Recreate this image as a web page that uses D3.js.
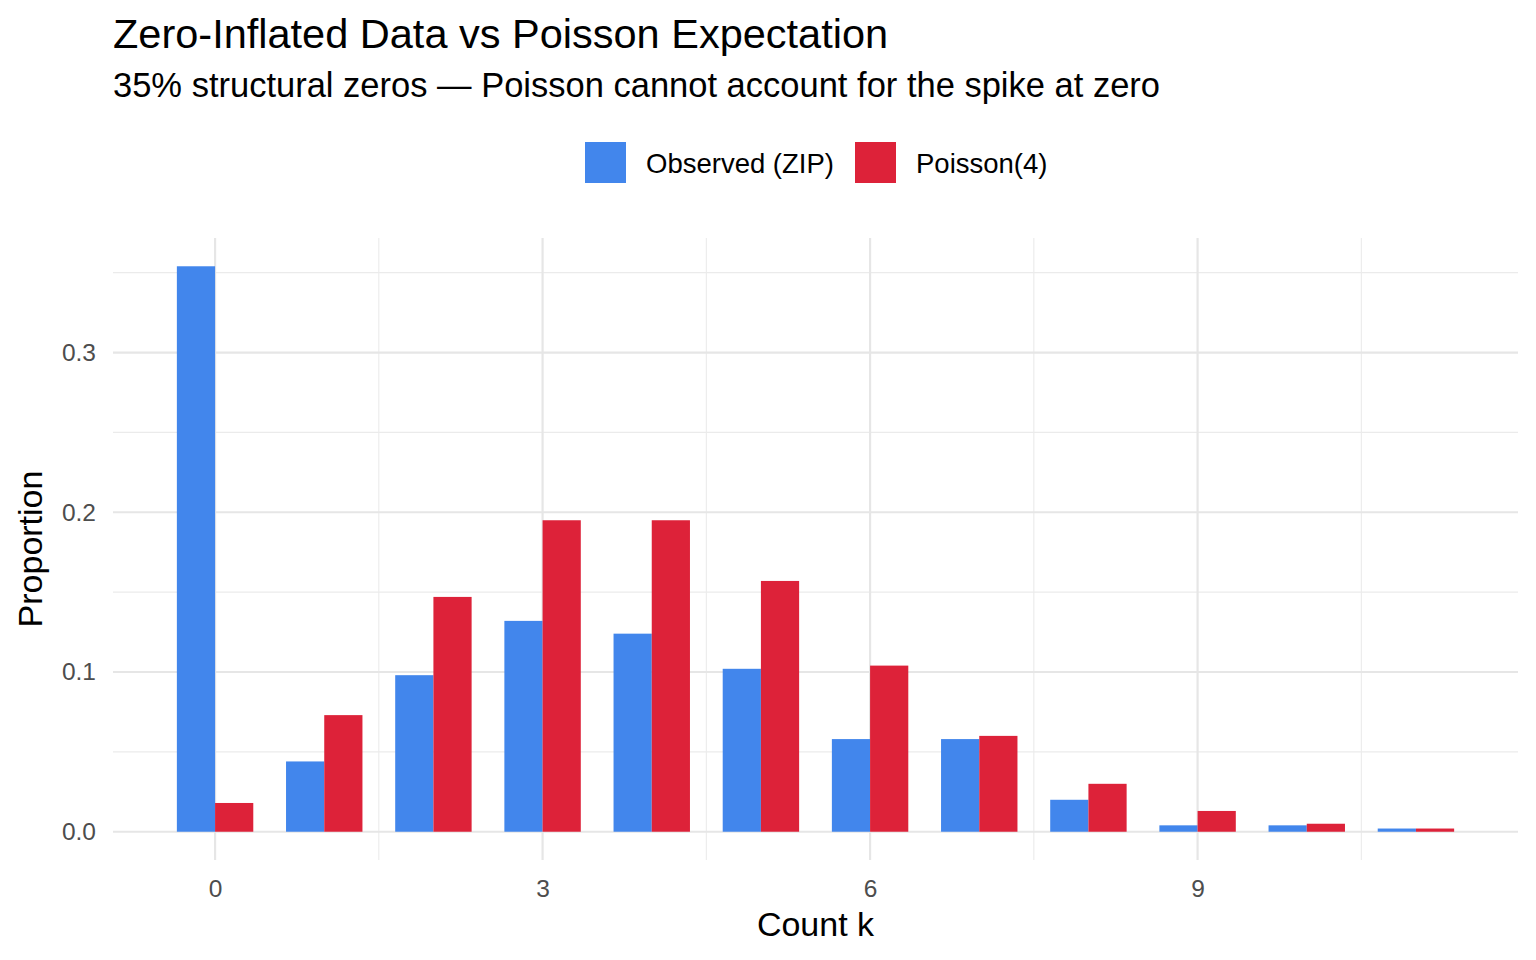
<!DOCTYPE html>
<html>
<head>
<meta charset="utf-8">
<script src="https://cdn.jsdelivr.net/npm/d3@7"></script>
<style>
  html, body { margin: 0; padding: 0; background: #fff; }
  svg { display: block; font-family: "Liberation Sans", Arial, Helvetica, sans-serif; }
</style>
</head>
<body>
<svg id="chart" width="1536" height="960"></svg>
<script>
// counts on the x axis
const counts = [0, 1, 2, 3, 4, 5, 6, 7, 8, 9, 10, 11];
// observed zero-inflated proportions
const observed = [0.354, 0.044, 0.098, 0.132, 0.124, 0.102, 0.058, 0.058, 0.020, 0.004, 0.004, 0.002];
// Poisson(4) expectation
const poisson = [0.018, 0.073, 0.147, 0.195, 0.195, 0.157, 0.104, 0.060, 0.030, 0.013, 0.005, 0.002];
const seriesNames = ['Observed (ZIP)', 'Poisson(4)'];
const seriesColors = ['#4286EC', '#DD2239'];
const xTicks = [0, 3, 6, 9];
const yTicks = [0, 0.1, 0.2, 0.3];

const svg = d3.select('#chart');

const panel = { left: 113, right: 1518, top: 238, bottom: 860 };

// ggplot style expansion: 5% each side
const dodge = 0.7;
const xMin = -dodge / 2, xMax = 11 + dodge / 2;
const xPad = (xMax - xMin) * 0.05;
const x = d3.scaleLinear()
  .domain([xMin - xPad, xMax + xPad])
  .range([panel.left, panel.right]);

const yMaxData = d3.max(observed.concat(poisson));
const yPad = yMaxData * 0.05;
const y = d3.scaleLinear()
  .domain([-yPad, yMaxData + yPad])
  .range([panel.bottom, panel.top]);

const grid = svg.append('g');

// minor grid lines
const xMinor = [1.5, 4.5, 7.5, 10.5];
const yMinor = [0.05, 0.15, 0.25, 0.35];
grid.selectAll('.xminor').data(xMinor).enter().append('line')
  .attr('x1', d => x(d)).attr('x2', d => x(d))
  .attr('y1', panel.top).attr('y2', panel.bottom)
  .attr('stroke', '#EBEBEB').attr('stroke-width', 1.1);
grid.selectAll('.yminor').data(yMinor).enter().append('line')
  .attr('x1', panel.left).attr('x2', panel.right)
  .attr('y1', d => y(d)).attr('y2', d => y(d))
  .attr('stroke', '#EBEBEB').attr('stroke-width', 1.1);

// major grid lines
grid.selectAll('.xmajor').data(xTicks).enter().append('line')
  .attr('x1', d => x(d)).attr('x2', d => x(d))
  .attr('y1', panel.top).attr('y2', panel.bottom)
  .attr('stroke', '#E6E6E6').attr('stroke-width', 2.2);
grid.selectAll('.ymajor').data(yTicks).enter().append('line')
  .attr('x1', panel.left).attr('x2', panel.right)
  .attr('y1', d => y(d)).attr('y2', d => y(d))
  .attr('stroke', '#E6E6E6').attr('stroke-width', 2.2);

// bars
const barW = x(dodge / 2) - x(0);
const bars = svg.append('g');
[observed, poisson].forEach((vals, s) => {
  bars.selectAll('.bar' + s).data(counts).enter().append('rect')
    .attr('x', d => x(d) + (s === 0 ? -barW : 0))
    .attr('width', barW)
    .attr('y', (d, i) => y(vals[i]))
    .attr('height', (d, i) => y(0) - y(vals[i]))
    .attr('fill', seriesColors[s]);
});

// axes (text only, like theme_minimal)
const xAxis = svg.append('g')
  .attr('transform', `translate(0,${panel.bottom})`)
  .call(d3.axisBottom(x).tickValues(xTicks).tickSize(0).tickPadding(20).tickFormat(d3.format('d')));
xAxis.select('.domain').remove();
xAxis.selectAll('text').attr('font-size', 24.5).attr('fill', '#4D4D4D').attr('font-family', null);

const yAxis = svg.append('g')
  .attr('transform', `translate(${panel.left},0)`)
  .call(d3.axisLeft(y).tickValues(yTicks).tickSize(0).tickPadding(17).tickFormat(d3.format('.1f')));
yAxis.select('.domain').remove();
yAxis.selectAll('text').attr('font-size', 24.5).attr('fill', '#4D4D4D').attr('font-family', null);

// axis titles
svg.append('text')
  .attr('x', (panel.left + panel.right) / 2).attr('y', 936)
  .attr('text-anchor', 'middle').attr('font-size', 34).attr('fill', '#000')
  .text('Count k');
svg.append('text')
  .attr('transform', `translate(42,${(panel.top + panel.bottom) / 2}) rotate(-90)`)
  .attr('text-anchor', 'middle').attr('font-size', 34).attr('fill', '#000')
  .text('Proportion');

// title + subtitle
svg.append('text')
  .attr('x', 113).attr('y', 48)
  .attr('font-size', 41.5).attr('fill', '#000')
  .text('Zero-Inflated Data vs Poisson Expectation');
svg.append('text')
  .attr('x', 113).attr('y', 97)
  .attr('font-size', 34.5).attr('fill', '#000')
  .text('35% structural zeros \u2014 Poisson cannot account for the spike at zero');

// legend
const legend = svg.append('g');
const legendX = [585, 855];
seriesNames.forEach((name, i) => {
  legend.append('rect')
    .attr('x', legendX[i]).attr('y', 142)
    .attr('width', 41).attr('height', 41)
    .attr('fill', seriesColors[i]);
  legend.append('text')
    .attr('x', legendX[i] + 61).attr('y', 173)
    .attr('font-size', 27.5).attr('fill', '#000')
    .text(name);
});
</script>
</body>
</html>
